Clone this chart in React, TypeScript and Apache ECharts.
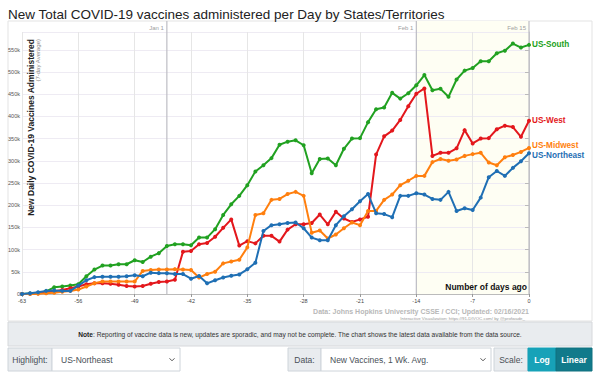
import React, { useEffect, useRef } from "react";
import * as echarts from "echarts";

const days: number[] = Array.from({ length: 64 }, (_, i) => i - 63);

const southValues = [
  0, 1000, 2000, 6000, 15000, 17000, 19000,
  22000, 40000, 55000, 64000, 64000, 67000, 67000,
  76000, 72000, 84000, 92000, 108000, 112000, 112000,
  110000, 127000, 127000, 146000, 178000, 202000, 221000,
  245000, 276000, 290000, 306000, 336000, 343000, 346000,
  335000, 272000, 304000, 305000, 290000, 327000, 350000,
  351000, 387000, 416000, 420000, 453000, 440000, 452000,
  470000, 493000, 459000, 462000, 444000, 483000, 503000,
  509000, 524000, 524000, 542000, 548000, 564000, 555000,
  561000,
];

const westValues = [
  0, 500, 1500, 3000, 6000, 9000, 13000,
  17000, 22000, 24000, 24000, 23000, 21000, 18000,
  17000, 18000, 23000, 27000, 28000, 32000, 95000,
  97000, 112000, 115000, 129000, 149000, 168000, 109000,
  119000, 114000, 131000, 131000, 118000, 145000, 157000,
  157000, 160000, 179000, 157000, 185000, 170000, 162000,
  168000, 174000, 314000, 355000, 368000, 392000, 423000,
  451000, 463000, 311000, 318000, 318000, 328000, 369000,
  339000, 350000, 351000, 371000, 379000, 376000, 354000,
  390000,
];

const midwestValues = [
  0, 0, 500, 1500, 3000, 5000, 7000,
  10000, 17000, 24000, 28000, 28000, 28000, 28000,
  28000, 52000, 54000, 55000, 55000, 56000, 55000,
  54000, 37000, 45000, 50000, 69000, 73000, 77000,
  105000, 178000, 182000, 212000, 214000, 225000, 230000,
  221000, 138000, 143000, 125000, 134000, 148000, 161000,
  155000, 187000, 187000, 212000, 224000, 245000, 255000,
  266000, 266000, 297000, 304000, 300000, 303000, 311000,
  315000, 318000, 296000, 290000, 308000, 313000, 320000,
  329000,
];

const northeastValues = [
  0, 1500, 4000, 7000, 8000, 7000, 7000,
  19000, 31000, 38000, 39000, 39000, 39000, 40000,
  42000, 40000, 48000, 47000, 46500, 45000, 45000,
  34500, 40500, 24000, 31000, 37000, 41000, 44000,
  55500, 70500, 142000, 155000, 157000, 160000, 161000,
  148000, 127000, 121000, 121000, 155000, 175000, 191000,
  209000, 225000, 182000, 180000, 173000, 221000, 221000,
  227000, 224000, 214000, 212000, 230000, 187000, 193000,
  189000, 217000, 263000, 277000, 266000, 284000, 299000,
  317000,
];

const seriesNames = ["US-South", "US-West", "US-Midwest", "US-Northeast"];
const seriesColors = ["#21a121", "#e3171c", "#ff7f0e", "#1f6fb4"];
const seriesValues = [southValues, westValues, midwestValues, northeastValues];
const labelShift = [0, 0, -2.2, 2.2];

const dateMarkers = [
  { day: -45, label: "Jan 1" },
  { day: -14, label: "Feb 1" },
  { day: 0, label: "Feb 15" },
];

const FONT = "Liberation Sans, Arial, sans-serif";

export default function App() {
  const ref = useRef<HTMLDivElement>(null);
  useEffect(() => {
    document.body.style.margin = "0";
    const chart = echarts.init(ref.current!, null, { renderer: "svg" });
    const series = seriesNames.map((name, si) => ({
      type: "line",
      name,
      data: days.map((d, i) => [d, seriesValues[si][i]]),
      symbol: "circle",
      symbolSize: 4,
      color: seriesColors[si],
      lineStyle: { width: 2, color: seriesColors[si] },
      itemStyle: { color: seriesColors[si] },
      z: 5 + si,
      endLabel: {
        show: true,
        formatter: name,
        color: seriesColors[si],
        fontWeight: "bold",
        fontSize: 8.2,
        lineHeight: 8.2,
        fontFamily: FONT,
        distance: 3,
        offset: [0, labelShift[si]],
      },
    }));
    chart.setOption({
      animation: false,
      title: {
        text: "New Total COVID-19 vaccines administered per Day by States/Territories",
        left: 3,
        top: 2,
        textStyle: { fontSize: 13.5, fontWeight: "normal", color: "#222", fontFamily: FONT },
      },
      grid: { left: 22, right: 71, top: 32, bottom: 78 },
      xAxis: {
        type: "value",
        min: -63,
        max: 0,
        interval: 7,
        axisLine: { show: true, lineStyle: { color: "#bbb" } },
        axisTick: { show: true, length: 3, lineStyle: { color: "#999" } },
        axisLabel: { fontSize: 5.5, color: "#444", margin: 4, fontFamily: FONT },
        splitLine: { show: true, lineStyle: { color: "#e6e6e6", width: 1 } },
      },
      yAxis: {
        type: "value",
        min: 0,
        max: 590000,
        interval: 50000,
        axisLine: { show: true, lineStyle: { color: "#ccc" } },
        axisTick: { show: true, length: 4, lineStyle: { color: "#bbb" } },
        axisLabel: {
          fontSize: 5.5,
          color: "#555",
          margin: 2,
          fontFamily: FONT,
          showMaxLabel: false,
          formatter: (v: number) => (v === 0 ? "0" : v / 1000 + "k"),
        },
        splitLine: { show: true, lineStyle: { color: "#eeebf3", width: 1 } },
      },
      series,
    });

    const px = (d: number, v: number) => chart.convertToPixel({ gridIndex: 0 }, [d, v]) as number[];
    const [, yBottom] = px(-63, 0);
    const [xEnd] = px(0, 0);
    const [xFeb1] = px(-14, 0);
    const panelTop = 21;

    const graphics: any[] = [];
    graphics.push({
      type: "rect",
      z: -20,
      shape: { x: 8, y: panelTop, width: 584, height: 300 },
      style: { fill: "#fff", stroke: "#e3e3e3", lineWidth: 1 },
      silent: true,
    });
    graphics.push({
      type: "rect",
      z: -10,
      shape: { x: xFeb1, y: panelTop, width: xEnd - xFeb1, height: yBottom - panelTop },
      style: { fill: "#fefef3" },
      silent: true,
    });
    dateMarkers.forEach((m) => {
      const [x] = px(m.day, 0);
      graphics.push({
        type: "line",
        z: 1,
        shape: { x1: x, y1: panelTop, x2: x, y2: yBottom },
        style: { stroke: "#bdbdc4", lineWidth: 1.2 },
        silent: true,
      });
      graphics.push({
        type: "text",
        z: 1,
        x: x - 3,
        y: panelTop + 7,
        style: {
          text: m.label,
          font: `6px ${FONT}`,
          fill: "#a0a0a0",
          align: "right",
          verticalAlign: "middle",
        },
        silent: true,
      });
    });
    graphics.push({
      type: "text",
      z: 10,
      x: 26,
      y: 39,
      rotation: Math.PI / 2,
      style: {
        text: "New Daily COVID-19 Vaccines Administered",
        font: `bold 8.5px ${FONT}`,
        fill: "#222",
        align: "right",
        verticalAlign: "top",
      },
      silent: true,
    });
    graphics.push({
      type: "text",
      z: 10,
      x: 35,
      y: 39,
      rotation: Math.PI / 2,
      style: {
        text: "(7-day Average)",
        font: `6px ${FONT}`,
        fill: "#888",
        align: "right",
        verticalAlign: "top",
      },
      silent: true,
    });
    graphics.push({
      type: "text",
      z: 10,
      x: xEnd - 2,
      y: yBottom - 7,
      style: {
        text: "Number of days ago",
        font: `bold 8.5px ${FONT}`,
        fill: "#111",
        align: "right",
        verticalAlign: "middle",
      },
      silent: true,
    });
    graphics.push({
      type: "text",
      x: xEnd,
      y: 311,
      style: {
        text: "Data: Johns Hopkins University CSSE / CCI; Updated: 02/16/2021",
        font: `bold 7px ${FONT}`,
        fill: "#b8b8b8",
        align: "right",
        verticalAlign: "middle",
      },
      silent: true,
    });
    graphics.push({
      type: "text",
      x: xEnd - 4,
      y: 318.5,
      style: {
        text: "Interactive Visualization: https://91-DIVOC.com/ by @profwade_",
        font: `4.4px ${FONT}`,
        fill: "#999",
        align: "right",
        verticalAlign: "middle",
      },
      silent: true,
    });
    graphics.push({
      type: "rect",
      shape: { x: 8, y: 322, width: 584, height: 24 },
      style: { fill: "#e9ecef", stroke: "#d6d8db", lineWidth: 1 },
      silent: true,
    });
    graphics.push({
      type: "text",
      x: 300,
      y: 334,
      style: {
        text: "{b|Note}: Reporting of vaccine data is new, updates are sporadic, and may not be complete. The chart shows the latest data available from the data source.",
        font: `6.6px ${FONT}`,
        fill: "#333",
        align: "center",
        verticalAlign: "middle",
        rich: { b: { fontWeight: "bold", fontSize: 6.6, fontFamily: FONT, fill: "#222" } },
      },
      silent: true,
    });
    const cy = 348;
    const ch = 23;
    const box = (x: number, w: number, fill: string, stroke: string) => ({
      type: "rect",
      shape: { x, y: cy, width: w, height: ch },
      style: { fill, stroke, lineWidth: 1 },
      silent: true,
    });
    const txt = (x: number, t: string, fill: string, bold = false, align = "left") => ({
      type: "text",
      x,
      y: cy + ch / 2,
      style: {
        text: t,
        font: `${bold ? "bold " : ""}8.5px ${FONT}`,
        fill,
        align,
        verticalAlign: "middle",
      },
      silent: true,
    });
    const chevron = (x: number) => ({
      type: "polyline",
      shape: { points: [[x - 2.5, cy + ch / 2 - 1.2], [x, cy + ch / 2 + 1.3], [x + 2.5, cy + ch / 2 - 1.2]] },
      style: { stroke: "#555", lineWidth: 1, fill: "none" },
      silent: true,
    });
    graphics.push(box(8, 44, "#e9ecef", "#ced4da"));
    graphics.push(txt(30, "Highlight:", "#495057", false, "center"));
    graphics.push(box(52, 128, "#fff", "#ced4da"));
    graphics.push(txt(61, "US-Northeast", "#495057"));
    graphics.push(chevron(172));
    graphics.push(box(288, 33, "#e9ecef", "#ced4da"));
    graphics.push(txt(304.5, "Data:", "#495057", false, "center"));
    graphics.push(box(321, 170, "#fff", "#ced4da"));
    graphics.push(txt(330, "New Vaccines, 1 Wk. Avg.", "#495057"));
    graphics.push(chevron(483));
    graphics.push(box(494, 34, "#e9ecef", "#ced4da"));
    graphics.push(txt(511, "Scale:", "#495057", false, "center"));
    graphics.push(box(528, 28, "#17a2b8", "#17a2b8"));
    graphics.push(txt(542, "Log", "#fff", true, "center"));
    graphics.push(box(556, 36, "#117a8b", "#10707f"));
    graphics.push(txt(574, "Linear", "#fff", true, "center"));

    chart.setOption({ graphic: graphics });
    return () => chart.dispose();
  }, []);
  return <div ref={ref} style={{ width: 600, height: 372 }} />;
}
